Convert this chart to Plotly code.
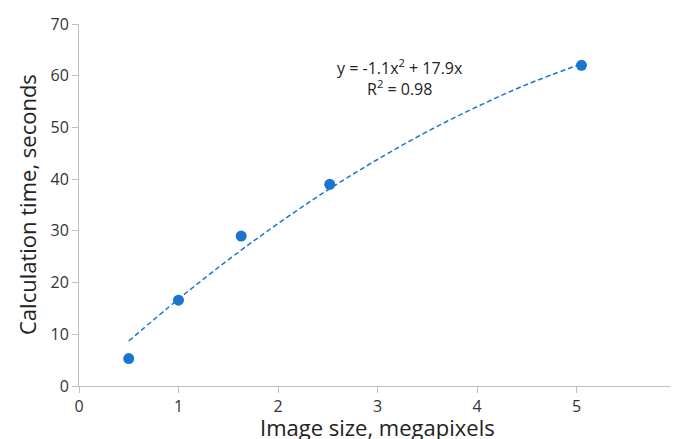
import plotly.graph_objects as go

# Measured data
image_size_mp = [0.5, 1.0, 1.63, 2.52, 5.05]
calc_time_s = [5.3, 16.6, 29.0, 39.0, 62.0]

# Trendline values
trend_x = [0.5, 1.0, 1.5, 2.0, 2.5, 3.0, 3.5, 4.0, 4.5, 5.05]
trend_y = [8.7, 16.8, 24.4, 31.4, 37.9, 43.8, 49.2, 54.0, 58.3, 62.3]

x_ticks = [0, 1, 2, 3, 4, 5, 6]
y_ticks = [0, 10, 20, 30, 40, 50, 60, 70]

x_title = "Image size, megapixels"
y_title = "Calculation time, seconds"
eq_text = "y = -1.1x<sup>2</sup> + 17.9x<br>R<sup>2</sup> = 0.98"

blue = "#1a75cf"
font = "Open Sans"

fig = go.Figure()
fig.add_trace(go.Scatter(
    x=trend_x, y=trend_y, mode="lines", line_shape="spline",
    line=dict(color=blue, width=1.5, dash="5px,3px"),
    hoverinfo="skip", showlegend=False))
fig.add_trace(go.Scatter(
    x=image_size_mp, y=calc_time_s, mode="markers",
    marker=dict(color=blue, size=11), showlegend=False))

fig.add_annotation(
    xref="x", yref="y", x=3.226, y=59.6, yanchor="middle",
    text=eq_text, showarrow=False, align="center",
    font=dict(family=font, size=16, color="#222"))

fig.add_annotation(
    xref="paper", yref="paper", x=0.5, y=0, yanchor="middle",
    yshift=-41, text=x_title, showarrow=False,
    font=dict(family=font, size=22, color="#222"))
fig.add_annotation(
    xref="paper", yref="paper", x=0, y=0.5, xanchor="center",
    xshift=-52, textangle=-90, text=y_title, showarrow=False,
    font=dict(family=font, size=22, color="#222"))

axis_common = dict(
    showgrid=False, zeroline=False, showline=True, automargin=False,
    linecolor="#bfbfbf", linewidth=1,
    ticks="outside", ticklen=6, tickcolor="#bfbfbf",
    tickfont=dict(family=font, size=16, color="#333"),
    ticklabeloverflow="allow",
)

# The page body adds an 8px offset, so margins are compensated for it.
fig.update_layout(
    width=678, height=439,
    margin=dict(l=71, r=10, t=16, b=61),
    plot_bgcolor="white", paper_bgcolor="white",
    xaxis=dict(range=[0, 6], tickvals=x_ticks, **axis_common),
    yaxis=dict(range=[0, 70], tickvals=y_ticks, **axis_common),
)

fig.write_html("out.html")
